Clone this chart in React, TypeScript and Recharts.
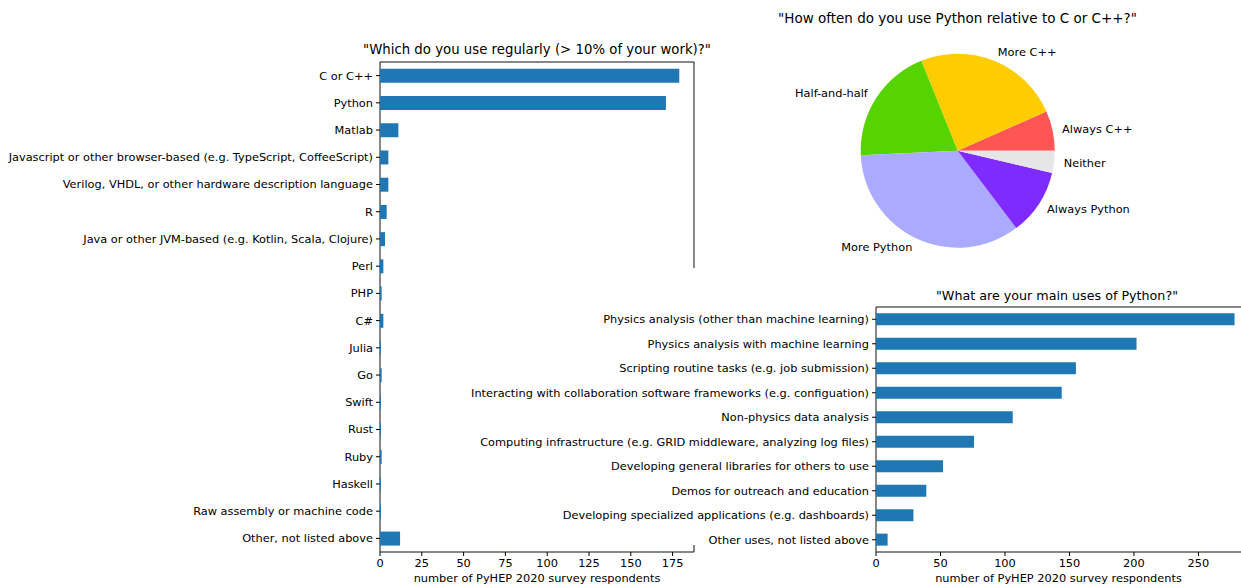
import { BarChart, Bar, XAxis, YAxis, ReferenceArea, PieChart, Pie, Cell } from 'recharts';

// "Which do you use regularly?"
const languages = [
  'C or C++',
  'Python',
  'Matlab',
  'Javascript or other browser-based (e.g. TypeScript, CoffeeScript)',
  'Verilog, VHDL, or other hardware description language',
  'R',
  'Java or other JVM-based (e.g. Kotlin, Scala, Clojure)',
  'Perl',
  'PHP',
  'C#',
  'Julia',
  'Go',
  'Swift',
  'Rust',
  'Ruby',
  'Haskell',
  'Raw assembly or machine code',
  'Other, not listed above',
];
const languageCounts = [179, 171, 11, 5, 5, 4, 3, 2, 1, 2, 0.5, 1, 0.5, 0.5, 1, 0.5, 0.5, 12];
const languageTicks = [0, 25, 50, 75, 100, 125, 150, 175];
const languageMax = 187.8;

// "How often do you use Python relative to C or C++?"
const pieLabels = ['Always C++', 'More C++', 'Half-and-half', 'More Python', 'Always Python', 'Neither'];
const pieValues = [27, 100, 80, 141, 45, 15];
const pieColors = ['#ff5555', '#ffcc00', '#55d400', '#aaaaff', '#7f2aff', '#e6e6e6'];

// "What are your main uses of Python?"
const uses = [
  'Physics analysis (other than machine learning)',
  'Physics analysis with machine learning',
  'Scripting routine tasks (e.g. job submission)',
  'Interacting with collaboration software frameworks (e.g. configuation)',
  'Non-physics data analysis',
  'Computing infrastructure (e.g. GRID middleware, analyzing log files)',
  'Developing general libraries for others to use',
  'Demos for outreach and education',
  'Developing specialized applications (e.g. dashboards)',
  'Other uses, not listed above',
];
const useCounts = [278, 202, 155, 144, 106, 76, 52, 39, 29, 9];
const useTicks = [0, 50, 100, 150, 200, 250];
const useMax = 283;

const FONT = 'DejaVu Sans';
const BLUE = '#1f77b4';
const INK = '#000';
const TICK_SIZE = 11.35;
const RAD = Math.PI / 180;

const languageData = languages.map((name, i) => ({ name, value: languageCounts[i] }));
const pieData = pieLabels.map((name, i) => ({ name, value: pieValues[i] }));
const useData = uses.map((name, i) => ({ name, value: useCounts[i] }));

const tickStyle = { fill: INK, fontSize: TICK_SIZE, fontFamily: FONT };

// plain one-line category label (Recharts would wrap the long ones)
const CategoryTick = ({ x, y, payload }: any) => (
  <text x={x} y={y} dy="0.35em" textAnchor="end" fontSize={TICK_SIZE} fontFamily={FONT} fill={INK}>
    {payload.value}
  </text>
);

const Title = ({ text, cx, cy, size = 13.3 }: { text: string; cx: number; cy: number; size?: number }) => (
  <div
    style={{
      position: 'absolute',
      left: cx - 300,
      top: cy - 8,
      width: 600,
      lineHeight: '16px',
      textAlign: 'center',
      fontSize: size,
      fontFamily: FONT,
      color: INK,
      whiteSpace: 'nowrap',
    }}
  >
    {text}
  </div>
);

const renderPieLabel = (props: any) => {
  const { cx, cy, midAngle, outerRadius } = props;
  const name = props.name ?? props.payload?.name;
  const r = outerRadius * 1.1;
  const x = cx + r * Math.cos(-midAngle * RAD);
  const y = cy + r * Math.sin(-midAngle * RAD);
  return (
    <text
      x={x}
      y={y}
      dy="0.35em"
      textAnchor={x > cx ? 'start' : 'end'}
      fontSize={TICK_SIZE}
      fontFamily={FONT}
      fill={INK}
    >
      {name}
    </text>
  );
};

const xLabel = {
  value: 'number of PyHEP 2020 survey respondents',
  position: 'insideBottom' as const,
  offset: 4,
  style: { fill: INK, fontSize: TICK_SIZE, fontFamily: FONT },
};

export default function App() {
  return (
    <div
      style={{
        position: 'absolute',
        left: 0,
        top: 0,
        width: 1241,
        height: 586,
        background: '#fff',
        overflow: 'hidden',
        fontFamily: FONT,
      }}
    >
      {/* left: languages */}
      <div style={{ position: 'absolute', left: 0, top: 0 }}>
        <BarChart
          width={700}
          height={586}
          data={languageData}
          layout="vertical"
          margin={{ top: 62, right: 6, bottom: 0, left: 0 }}
          barCategoryGap="25%"
        >
          <XAxis
            type="number"
            domain={[0, languageMax]}
            ticks={languageTicks}
            allowDataOverflow
            height={34}
            axisLine={false}
            tickLine={{ stroke: INK }}
            tickSize={4}
            tickMargin={3}
            tick={tickStyle}
            label={xLabel}
          />
          <YAxis
            type="category"
            dataKey="name"
            width={380}
            interval={0}
            axisLine={false}
            tickLine={{ stroke: INK }}
            tickSize={4}
            tickMargin={3}
            tick={<CategoryTick />}
          />
          <Bar dataKey="value" fill={BLUE} isAnimationActive={false} />
          <ReferenceArea x1={0} x2={languageMax} fill="none" stroke="#111" strokeWidth={1} ifOverflow="visible" />
        </BarChart>
      </div>
      <Title text={'"Which do you use regularly (> 10% of your work)?"'} cx={537} cy={50} />

      {/* the pasted lower panel hides part of the left frame */}
      <div style={{ position: 'absolute', left: 688, top: 268, width: 12, height: 277, background: '#fff' }} />

      {/* top right: pie */}
      <div style={{ position: 'absolute', left: 760, top: 0 }}>
        <PieChart width={400} height={268} margin={{ top: 0, right: 0, bottom: 0, left: 0 }}>
          <Pie
            data={pieData}
            dataKey="value"
            nameKey="name"
            cx={197.7}
            cy={150.7}
            outerRadius={97}
            startAngle={0}
            endAngle={360}
            stroke="none"
            label={renderPieLabel}
            labelLine={false}
            isAnimationActive={false}
          >
            {pieData.map((d, i) => (
              <Cell key={d.name} fill={pieColors[i]} />
            ))}
          </Pie>
        </PieChart>
      </div>
      <Title text={'"How often do you use Python relative to C or C++?"'} cx={957.5} cy={18} size={13.5} />

      {/* bottom right: uses */}
      <div style={{ position: 'absolute', left: 440, top: 268 }}>
        <BarChart
          width={801}
          height={318}
          data={useData}
          layout="vertical"
          margin={{ top: 39, right: 0, bottom: 0, left: 0 }}
          barCategoryGap="25%"
        >
          <XAxis
            type="number"
            domain={[0, useMax]}
            ticks={useTicks}
            allowDataOverflow
            height={34}
            axisLine={false}
            tickLine={{ stroke: INK }}
            tickSize={4}
            tickMargin={3}
            tick={tickStyle}
            label={xLabel}
          />
          <YAxis
            type="category"
            dataKey="name"
            width={436}
            interval={0}
            axisLine={false}
            tickLine={{ stroke: INK }}
            tickSize={4}
            tickMargin={3}
            tick={<CategoryTick />}
          />
          <Bar dataKey="value" fill={BLUE} isAnimationActive={false} />
          <ReferenceArea x1={0} x2={useMax + 3} fill="none" stroke="#111" strokeWidth={1} ifOverflow="visible" />
        </BarChart>
      </div>
      <Title text={'"What are your main uses of Python?"'} cx={1057} cy={296} size={12.7} />
    </div>
  );
}
